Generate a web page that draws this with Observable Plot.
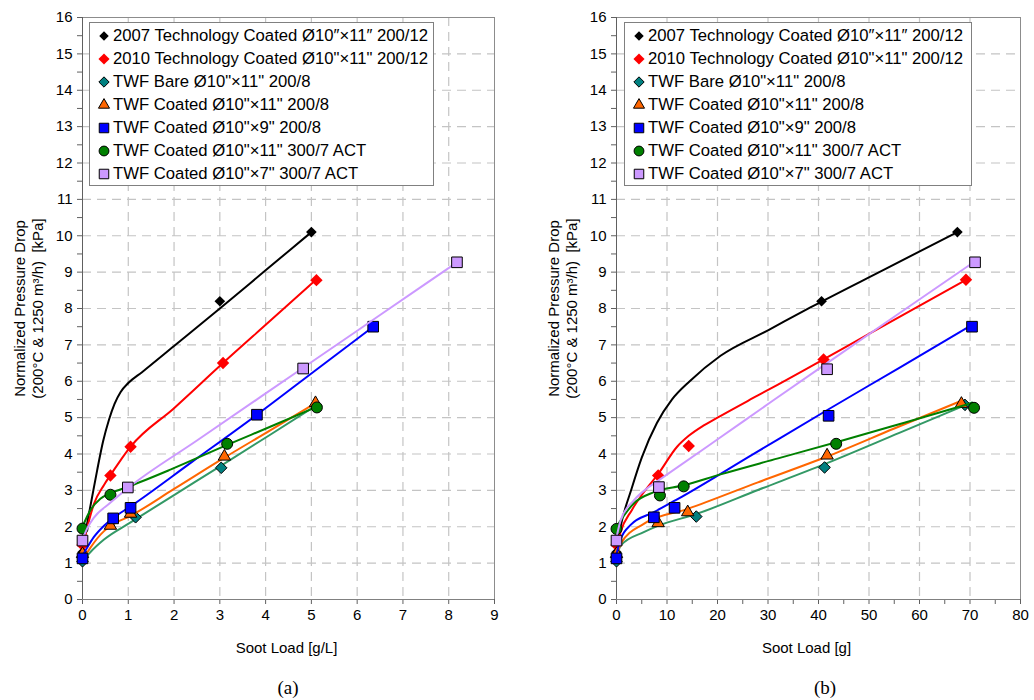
<!DOCTYPE html>
<html><head><meta charset="utf-8">
<script src="https://cdn.jsdelivr.net/npm/d3@7"></script>
<script src="https://cdn.jsdelivr.net/npm/@observablehq/plot@0.6"></script>
<style>
body{margin:0;background:#fff;font-family:"Liberation Sans",Arial,sans-serif;}
#wrap{position:relative;width:1034px;height:700px;overflow:hidden;background:#fff;}
.panel{position:absolute;top:0;}
.legend{position:absolute;top:22px;height:164px;border:1px solid #808080;background:#fff;box-sizing:border-box;}
.row{position:absolute;height:23px;display:flex;align-items:center;font-size:16.7px;white-space:nowrap;color:#000;}
.row svg{margin-right:2px;}
.cap{position:absolute;font-family:"Liberation Serif","Times New Roman",serif;font-size:19px;transform:translate(-50%,-50%);}
</style></head><body><div id="wrap"></div>
<script>
// ---------- data ----------
const seriesNames = [
  "2007 Technology Coated Ø10″×11″ 200/12",
  "2010 Technology Coated Ø10\"×11\" 200/12",
  "TWF Bare Ø10\"×11\" 200/8",
  "TWF Coated Ø10\"×11\" 200/8",
  "TWF Coated Ø10\"×9\" 200/8",
  "TWF Coated Ø10\"×11\" 300/7 ACT",
  "TWF Coated Ø10\"×7\" 300/7 ACT"
];
// panel (a): soot load [g/L] vs pressure drop [kPa]
const ptsA2007 = [[0,1.3],[3.0,8.2],[5.0,10.1]];
const ptsA2010 = [[0,1.5],[0.61,3.41],[1.05,4.2],[3.07,6.5],[5.11,8.78]];
const ptsABare = [[0,1.05],[1.16,2.26],[3.03,3.62],[5.1,5.33]];
const ptsACoat11 = [[0,1.25],[0.61,2.03],[1.05,2.36],[3.1,3.93],[5.09,5.4]];
const ptsACoat9 = [[0,1.13],[0.67,2.23],[1.05,2.52],[3.81,5.08],[6.35,7.5]];
const ptsAAct11 = [[0,1.95],[0.61,2.88],[3.16,4.28],[5.12,5.28]];
const ptsAAct7 = [[0,1.62],[0.99,3.08],[4.82,6.35],[8.18,9.27]];
// trend curves of panel (a)
const fitA2007 = [[0,1.4],[0.08,1.95],[0.2,2.75],[0.32,3.55],[0.45,4.35],[0.58,4.95],[0.7,5.38],[0.83,5.7],[1.0,5.95],[1.3,6.25],[2.0,6.97],[3.0,8.0],[4.0,9.05],[5.0,10.1]];
const fitA2010 = [[0,1.4],[0.08,1.85],[0.25,2.63],[0.47,3.15],[0.6,3.4],[0.8,3.77],[1.05,4.2],[2.0,5.26],[3.07,6.5],[4.1,7.66],[5.11,8.8]];
const fitABare = [[0,1.05],[0.17,1.3],[0.47,1.65],[1.05,2.12],[2.0,2.87],[3.03,3.68],[4.1,4.53],[5.1,5.33]];
const fitACoat11 = [[0,1.08],[0.17,1.42],[0.47,1.88],[0.65,2.05],[1.05,2.3],[2.0,3.04],[3.1,3.9],[4.1,4.65],[5.09,5.4]];
const fitACoat9 = [[0,1.2],[0.1,1.42],[0.25,1.72],[0.47,2.03],[0.67,2.24],[1.05,2.56],[2.4,3.79],[3.81,5.08],[5.1,6.31],[6.35,7.5]];
const fitAAct11 = [[0,2.0],[0.17,2.45],[0.39,2.77],[0.61,2.92],[1.0,3.1],[1.92,3.57],[3.16,4.25],[4.1,4.75],[5.12,5.3]];
const fitAAct7 = [[0,1.65],[0.1,1.95],[0.25,2.25],[0.6,2.65],[1.0,3.07],[2.5,4.37],[4.82,6.37],[6.5,7.82],[8.18,9.27]];
// panel (b): soot load [g]
const ptsB2007 = [[0,1.3],[40.6,8.2],[67.5,10.1]];
const ptsB2010 = [[0,1.5],[8.25,3.41],[14.3,4.22],[41,6.6],[69.2,8.79]];
const ptsBBare = [[0,1.05],[15.8,2.28],[41.2,3.63],[69,5.35]];
const ptsBCoat11 = [[0,1.25],[8.25,2.1],[14.1,2.4],[41.7,3.96],[68.3,5.38]];
const ptsBCoat9 = [[0,1.13],[7.4,2.26],[11.5,2.52],[42,5.05],[70.4,7.5]];
const ptsBAct11 = [[0,1.94],[8.6,2.86],[13.3,3.11],[43.5,4.28],[70.8,5.27]];
const ptsBAct7 = [[0,1.62],[8.4,3.09],[41.7,6.33],[71,9.27]];
const fitB2007 = [[0,1.4],[0.8,2.0],[3,3.05],[5,3.9],[8,4.85],[11,5.5],[14.5,6.0],[20.6,6.7],[30,7.4],[38.4,8.03],[53,9.07],[67.5,10.1]];
const fitB2010 = [[0,1.4],[0.8,1.85],[3,2.45],[5.4,2.95],[8.25,3.45],[12,4.2],[14.3,4.5],[17.2,4.78],[20,5.0],[28,5.61],[37,6.29],[50,7.3],[69.2,8.79]];
const fitBBare = [[0,1.1],[0.8,1.48],[5.4,1.85],[8.3,2.03],[15.8,2.35],[28,3.01],[41.2,3.72],[56,4.58],[70.4,5.42]];
const fitBCoat11 = [[0,1.15],[0.8,1.53],[5.4,2.08],[14.1,2.49],[28,3.22],[41.7,3.93],[55,4.7],[68.4,5.47]];
const fitBCoat9 = [[0,1.25],[0.8,1.65],[2.8,2.05],[7.4,2.4],[12,2.75],[27,3.99],[42,5.23],[56,6.37],[70.4,7.55]];
const fitBAct11 = [[0,2.0],[0.8,2.17],[3.4,2.64],[7.4,2.95],[13.3,3.14],[20.6,3.44],[32,3.88],[43.7,4.33],[57,4.86],[70.4,5.4]];
const fitBAct7 = [[0,1.7],[0.8,2.17],[3.4,2.72],[6,3.05],[8.4,3.28],[20.6,4.46],[31,5.47],[41.7,6.5],[56,7.87],[71,9.3]];
// ticks
const yTicks = d3.range(0, 16.01, 0.5);
const yGrid = d3.range(1, 16, 1);
const xTicksA = d3.range(0, 9.01, 1);
const xGridA = d3.range(1, 9, 1);
const xTicksB = d3.range(0, 80.01, 5);
const xGridB = d3.range(10, 80, 10);
const xTitleA = "Soot Load [g/L]";
const xTitleB = "Soot Load [g]";
const yTitle = "Normalized Pressure Drop\n(200°C & 1250 m³/h)  [kPa]";

// ---------- styles ----------
const lineColors = ["#000000","#ff0000","#339966","#ff6600","#0000ff","#008000","#cc99ff"];
const fillColors = ["#000000","#ff0000","#008080","#ff6600","#0000ff","#008000","#cc99ff"];
const markerStroke = ["none","none","#000","#000","#000","#000","#000"];
const symbols = ["diamond2","diamond2","diamond2","triangle","square","circle","square"];
const symbolR = [4.8,5.6,5.2,4.6,6.0,5.5,6.0];

const ptsA = [ptsA2007, ptsA2010, ptsABare, ptsACoat11, ptsACoat9, ptsAAct11, ptsAAct7];
const fitA = [fitA2007, fitA2010, fitABare, fitACoat11, fitACoat9, fitAAct11, fitAAct7];
const ptsB = [ptsB2007, ptsB2010, ptsBBare, ptsBCoat11, ptsBCoat9, ptsBAct11, ptsBAct7];
const fitB = [fitB2007, fitB2010, fitBBare, fitBCoat11, fitBCoat9, fitBAct11, fitBAct7];

const gridStyle = {stroke:"#c4c4c4", strokeOpacity:1, strokeWidth:1.2, strokeDasharray:"9,6"};

function panel(o) {
  const seriesMarks = [];
  for (let i = 0; i < 7; i++) {
    seriesMarks.push(Plot.line(o.fits[i], {x: d => d[0], y: d => d[1], stroke: lineColors[i], strokeWidth: 2, curve: "monotone-x"}));
    seriesMarks.push(Plot.dot(o.pts[i], {x: d => d[0], y: d => d[1], symbol: symbols[i], r: symbolR[i], fill: fillColors[i], stroke: markerStroke[i], strokeWidth: 1}));
  }
  return Plot.plot({
    width: o.width, height: 660,
    marginTop: 17, marginBottom: 61, marginLeft: 82, marginRight: o.marginRight,
    x: {domain: o.xDomain},
    y: {domain: [0, 16]},
    style: {fontFamily: "'Liberation Sans', Arial, sans-serif", fontSize: "15px", color: "#000", background: "transparent", overflow: "visible"},
    marks: [
      Plot.gridX(o.xGrid, gridStyle),
      Plot.gridY(yGrid, gridStyle),
      Plot.frame({stroke: "#8c8c8c"}),
      Plot.axisX(o.xTicks, {tickSize: 5, tickPadding: 5, stroke: "#606060", tickFormat: d => (o.xLabelEvery ? (d % o.xLabelEvery === 0 ? d : "") : d), label: null, fill: "#000"}),
      Plot.axisY(yTicks, {tickSize: 5, tickPadding: 5, stroke: "#606060", tickFormat: d => (Number.isInteger(d) ? d : ""), label: null, fill: "#000"}),
      Plot.ruleX([o.xDomain[0]], {stroke: "#606060"}),
      Plot.ruleY([0], {stroke: "#808080"}),
      ...seriesMarks,
      Plot.text([o.xTitle], {text: d => d, frameAnchor: "bottom", dy: 49, dx: o.xTitleDx, textAnchor: "middle", lineAnchor: "middle", fontSize: 15, fill: "#000"}),
      Plot.text([yTitle], {text: d => d, frameAnchor: "left", rotate: -90, dx: -54, textAnchor: "middle", lineAnchor: "middle", lineHeight: 1.15, fontSize: 15, fill: "#000"})
    ]
  });
}

const wrap = document.getElementById("wrap");
function addPanel(left, width, fig) {
  const div = document.createElement("div");
  div.className = "panel";
  div.style.left = left + "px";
  div.style.width = width + "px";
  div.appendChild(fig);
  wrap.appendChild(div);
}
addPanel(0, 517, panel({width: 517, marginRight: 23, xDomain: [0, 9], xTicks: xTicksA, xGrid: xGridA, pts: ptsA, fits: fitA, xTitle: xTitleA, xTitleDx: -2}));
addPanel(534, 500, panel({width: 500, marginRight: 14, xDomain: [0, 80], xTicks: xTicksB, xGrid: xGridB, xLabelEvery: 10, pts: ptsB, fits: fitB, xTitle: xTitleB, xTitleDx: -12}));

function addLegend(left, width) {
  const lg = document.createElement("div");
  lg.className = "legend";
  lg.style.left = left + "px";
  lg.style.width = width + "px";
  seriesNames.forEach((name, i) => {
    const row = document.createElement("div");
    row.className = "row";
    row.style.left = "7px";
    row.style.top = (i * 23 + 1) + "px";
    const svg = d3.create("svg").attr("width", 14).attr("height", 14);
    const symMap = {diamond2: d3.symbolDiamond2, triangle: d3.symbolTriangle, square: d3.symbolSquare, circle: d3.symbolCircle};
    svg.append("path")
      .attr("transform", "translate(7,7)")
      .attr("d", d3.symbol(symMap[symbols[i]], Math.PI * symbolR[i] * symbolR[i] * 0.8)())
      .attr("fill", fillColors[i])
      .attr("stroke", markerStroke[i])
      .attr("stroke-width", 1);
    row.appendChild(svg.node());
    const span = document.createElement("span");
    span.textContent = name;
    row.appendChild(span);
    lg.appendChild(row);
  });
  wrap.appendChild(lg);
}
addLegend(89, 345);
addLegend(624, 348);

function addCap(text, x, y) {
  const c = document.createElement("div");
  c.className = "cap";
  c.style.left = x + "px";
  c.style.top = y + "px";
  c.textContent = text;
  wrap.appendChild(c);
}
addCap("(a)", 288, 688);
addCap("(b)", 825, 688);
</script></body></html>
